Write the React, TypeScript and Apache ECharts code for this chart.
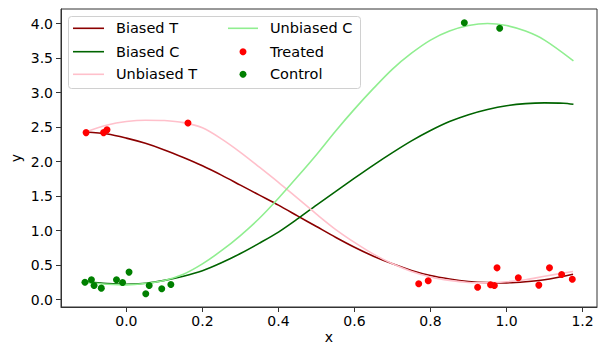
import React, { useEffect, useRef } from "react";
import * as echarts from "echarts";

const xTicks = [0, 0.2, 0.4, 0.6, 0.8, 1.0, 1.2];
const yTicks = [0, 0.5, 1.0, 1.5, 2.0, 2.5, 3.0, 3.5, 4.0];

const biasedT = [
  [-0.107, 2.43], [-0.05, 2.4], [0, 2.34], [0.05, 2.265], [0.1, 2.17], [0.15, 2.06], [0.2, 1.94],
  [0.25, 1.805], [0.3, 1.66], [0.35, 1.515], [0.4, 1.37], [0.45, 1.215], [0.5, 1.06],
  [0.55, 0.905], [0.6, 0.76], [0.65, 0.63], [0.7, 0.52], [0.75, 0.425], [0.8, 0.35],
  [0.85, 0.3], [0.9, 0.265], [0.95, 0.248], [1.0, 0.245], [1.05, 0.26], [1.1, 0.29],
  [1.175, 0.37],
];
const biasedC = [
  [-0.111, 0.26], [-0.05, 0.235], [0, 0.225], [0.05, 0.24], [0.1, 0.28], [0.15, 0.34],
  [0.2, 0.42], [0.25, 0.535], [0.3, 0.67], [0.35, 0.82], [0.4, 0.98], [0.45, 1.17],
  [0.5, 1.37], [0.55, 1.565], [0.6, 1.76], [0.65, 1.95], [0.7, 2.13], [0.75, 2.3],
  [0.8, 2.45], [0.85, 2.58], [0.9, 2.68], [0.95, 2.755], [1.0, 2.81], [1.05, 2.84],
  [1.1, 2.85], [1.15, 2.845], [1.176, 2.83],
];
const unbiasedT = [
  [-0.107, 2.43], [-0.05, 2.53], [0, 2.58], [0.05, 2.6], [0.1, 2.595], [0.15, 2.565],
  [0.2, 2.49], [0.25, 2.33], [0.3, 2.135], [0.35, 1.92], [0.4, 1.7], [0.45, 1.47],
  [0.5, 1.24], [0.55, 1.02], [0.6, 0.83], [0.65, 0.66], [0.7, 0.52], [0.75, 0.41],
  [0.8, 0.33], [0.85, 0.28], [0.9, 0.25], [0.95, 0.245], [1.0, 0.26], [1.05, 0.29],
  [1.1, 0.34], [1.175, 0.41],
];
const unbiasedC = [
  [-0.111, 0.25], [-0.05, 0.225], [0, 0.215], [0.05, 0.235], [0.1, 0.28], [0.15, 0.37],
  [0.2, 0.52], [0.25, 0.71], [0.3, 0.93], [0.35, 1.18], [0.4, 1.47], [0.45, 1.78],
  [0.5, 2.1], [0.55, 2.44], [0.6, 2.76], [0.65, 3.06], [0.7, 3.34], [0.75, 3.57],
  [0.8, 3.76], [0.85, 3.89], [0.9, 3.97], [0.95, 4.0], [1.0, 3.97], [1.05, 3.89],
  [1.1, 3.76], [1.176, 3.46],
];
const treated = [
  [-0.106, 2.42], [-0.06, 2.42], [-0.051, 2.46], [0.162, 2.56], [0.769, 0.231],
  [0.794, 0.274], [0.924, 0.182], [0.958, 0.216], [0.968, 0.207], [0.975, 0.462],
  [1.031, 0.318], [1.085, 0.212], [1.113, 0.462], [1.145, 0.366], [1.173, 0.298],
];
const control = [
  [-0.109, 0.254], [-0.092, 0.29], [-0.085, 0.207], [-0.066, 0.168], [-0.026, 0.29],
  [-0.01, 0.25], [0.007, 0.4], [0.051, 0.087], [0.06, 0.207], [0.093, 0.159],
  [0.117, 0.221], [0.889, 4.01], [0.982, 3.93],
];

const FONT = "DejaVu Sans";

export default function App() {
  const ref = useRef<HTMLDivElement>(null);
  useEffect(() => {
    const chart = echarts.init(ref.current!, null, { renderer: "svg" });
    const lineSeries = (name: string, data: number[][], color: string) => ({
      name,
      type: "line",
      data,
      smooth: 0.3,
      showSymbol: false,
      lineStyle: { color, width: 1.6 },
      itemStyle: { color },
    });
    const scatterSeries = (name: string, data: number[][], color: string) => ({
      name,
      type: "scatter",
      data,
      symbolSize: 7,
      itemStyle: { color, opacity: 1 },
      z: 5,
    });
    const z = 100;
    const legendText = (text: string, x: number, y: number) => ({
      type: "text",
      z,
      style: { text, x, y, fontSize: 14.5, fontFamily: FONT, fill: "#000", verticalAlign: "middle" },
    });
    const legendLine = (x1: number, x2: number, y: number, color: string) => ({
      type: "line",
      z,
      shape: { x1, y1: y, x2, y2: y },
      style: { stroke: color, lineWidth: 1.6 },
    });
    const legendDot = (cx: number, cy: number, color: string) => ({
      type: "circle",
      z,
      shape: { cx, cy, r: 3.5 },
      style: { fill: color },
    });
    const axisCommon = {
      type: "value",
      nameLocation: "middle",
      nameMoveOverlap: false,
      nameTextStyle: { fontSize: 14, fontFamily: FONT, color: "#000" },
      axisLine: { show: true, onZero: false, lineStyle: { color: "#333" } },
      splitLine: { show: false },
    };
    chart.setOption({
      animation: false,
      grid: {
        left: 61,
        right: 8,
        top: 9,
        bottom: 41,
        show: true,
        borderColor: "#333",
        borderWidth: 1,
        outerBoundsMode: "none",
      },
      xAxis: {
        ...axisCommon,
        min: -0.172,
        max: 1.238,
        name: "x",
        nameGap: 23,
        axisTick: { show: true, length: 5, inside: false, customValues: xTicks, lineStyle: { color: "#333" } },
        axisLabel: {
          customValues: xTicks,
          formatter: (v: number) => v.toFixed(1),
          fontSize: 14,
          fontFamily: FONT,
          color: "#000",
          margin: 7,
        },
      },
      yAxis: {
        ...axisCommon,
        min: -0.105,
        max: 4.21,
        name: "y",
        nameGap: 38,
        axisTick: { show: true, length: 5, inside: false, customValues: yTicks, lineStyle: { color: "#333" } },
        axisLabel: {
          customValues: yTicks,
          formatter: (v: number) => v.toFixed(1),
          fontSize: 14,
          fontFamily: FONT,
          color: "#000",
          margin: 8,
        },
      },
      series: [
        lineSeries("Biased T", biasedT, "#8b0000"),
        lineSeries("Biased C", biasedC, "#006400"),
        lineSeries("Unbiased T", unbiasedT, "#ffc0cb"),
        lineSeries("Unbiased C", unbiasedC, "#90ee90"),
        scatterSeries("Treated", treated, "#ff0000"),
        scatterSeries("Control", control, "#008000"),
      ],
      graphic: [
        {
          type: "rect",
          z,
          shape: { x: 68.5, y: 16.5, width: 292, height: 72, r: 3 },
          style: { fill: "rgba(255,255,255,0.8)", stroke: "#d0d0d0", lineWidth: 1 },
        },
        legendLine(73, 104, 28.3, "#8b0000"),
        legendLine(73, 104, 51.7, "#006400"),
        legendLine(73, 104, 74.3, "#ffc0cb"),
        legendText("Biased T", 116, 28.3),
        legendText("Biased C", 116, 51.7),
        legendText("Unbiased T", 116, 74.3),
        legendLine(228, 258, 28.3, "#90ee90"),
        legendDot(243, 51.7, "#ff0000"),
        legendDot(243, 74.3, "#008000"),
        legendText("Unbiased C", 270, 28.3),
        legendText("Treated", 270, 51.7),
        legendText("Control", 270, 74.3),
      ],
    });
    return () => chart.dispose();
  }, []);
  return (
    <div
      ref={ref}
      style={{ position: "fixed", left: 0, top: 0, width: 605, height: 348, background: "#fff" }}
    />
  );
}
